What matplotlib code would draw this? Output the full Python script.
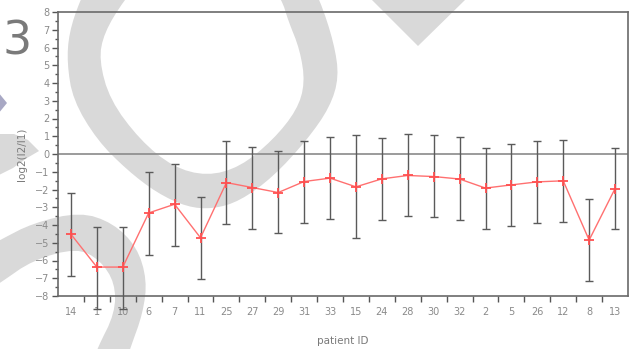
import matplotlib
matplotlib.use("Agg")
import matplotlib.pyplot as plt
import numpy as np
from matplotlib.patches import Polygon, PathPatch
from matplotlib.path import Path
from matplotlib.ticker import MultipleLocator, FixedLocator

# per-patient mean log ratio with +/- spread
patients = ["14", "1", "10", "6", "7", "11", "25", "27", "29", "31", "33",
            "15", "24", "28", "30", "32", "2", "5", "26", "12", "8", "13"]
mean_log2 = [-4.52, -6.37, -6.37, -3.32, -2.83, -4.72, -1.61, -1.89, -2.17, -1.55, -1.36,
             -1.85, -1.40, -1.21, -1.27, -1.41, -1.92, -1.74, -1.57, -1.51, -4.85, -1.95]
upper = [-2.21, -4.09, -4.09, -1.04, -0.57, -2.45, 0.71, 0.40, 0.15, 0.71, 0.94,
         1.07, 0.88, 1.11, 1.07, 0.94, 0.34, 0.57, 0.71, 0.77, -2.55, 0.34]
lower = [-6.87, -8.75, -8.75, -5.71, -5.19, -7.04, -3.93, -4.20, -4.47, -3.89, -3.66,
         -4.73, -3.72, -3.51, -3.56, -3.72, -4.24, -4.04, -3.89, -3.83, -7.15, -4.24]

W, H = 634, 349


def px(points):
    # pixel coords (origin top-left) -> figure fraction
    return [(x / W, 1 - y / H) for x, y in points]


def chaikin(points, n=2):
    pts = np.asarray(points, float)
    for _ in range(n):
        nxt = np.roll(pts, -1, axis=0)
        q = 0.75 * pts + 0.25 * nxt
        r = 0.25 * pts + 0.75 * nxt
        out = np.empty((2 * len(pts), 2))
        out[0::2], out[1::2] = q, r
        pts = out
    return pts


def ring_codes(n):
    return [Path.MOVETO] + [Path.LINETO] * (n - 1) + [Path.CLOSEPOLY]


fig = plt.figure(figsize=(W / 100, H / 100), dpi=100)
ax = fig.add_axes([58 / W, 1 - 296 / H, 570 / W, 284 / H])
ax.set_facecolor("none")

# background decoration
shade = "#d9d9d9"
outer = [(80, 0), (69, 33), (67, 63), (73, 100), (97, 140), (127, 170), (157, 193),
         (187, 207), (213, 209), (240, 201), (273, 177), (307, 140), (330, 107),
         (339, 77), (334, 43), (320, 0), (300, -40), (200, -60), (100, -40)]
inner = [(124, 0), (104, 33), (99, 60), (110, 100), (140, 140), (173, 167), (207, 176),
         (240, 167), (273, 140), (297, 110), (305, 83), (300, 50), (288, 20), (282, 0),
         (262, -30), (200, -45), (150, -30)]
o = chaikin(px(outer))
i = chaikin(px(inner))[::-1]
verts = np.vstack([o, o[:1], i, i[:1]])
codes = ring_codes(len(o)) + ring_codes(len(i))
fig.add_artist(PathPatch(Path(verts, codes), facecolor=shade, edgecolor="none",
                         transform=fig.transFigure, zorder=-2))

arc = [(-10, 246), (0, 240), (33, 223), (80, 212), (113, 223), (137, 247), (147, 280),
       (143, 313), (130, 349), (125, 365), (92, 365), (97, 349), (115, 313), (115, 283),
       (100, 260), (77, 248), (33, 260), (0, 283), (-10, 289)]
fig.add_artist(Polygon(chaikin(px(arc), 2), closed=True, facecolor=shade, edgecolor="none",
                       transform=fig.transFigure, zorder=-2))

wedge = [(-5, 134), (14, 134), (28, 140), (39, 151), (27, 158), (13, 168), (-5, 177)]
fig.add_artist(Polygon(px(wedge), closed=True, facecolor=shade, edgecolor="none",
                       transform=fig.transFigure, zorder=-2))

fig.add_artist(Polygon(px([(372, -5), (465, -5), (465, 0), (418, 46), (372, 0)]),
                       closed=True, facecolor=shade, edgecolor="none",
                       transform=fig.transFigure, zorder=-2))
fig.add_artist(Polygon(px([(-2, 92), (7, 103), (-2, 114)]), closed=True,
                       facecolor="#a8a8c4", edgecolor="none",
                       transform=fig.transFigure, zorder=-2))
fig.text(2 / W, 1 - 42 / H, "3", fontsize=33, color="#7a7a7a", va="center", ha="left")

# data
x = np.arange(len(patients))
mean = np.array(mean_log2)
err = np.vstack([mean - np.array(lower), np.array(upper) - mean])
eb = ax.errorbar(x, mean, yerr=err, fmt="none", ecolor="#5a5a5a", elinewidth=1.0,
                 capsize=3, capthick=1.0, zorder=3)
for art in list(eb.lines[1]) + list(eb.lines[2]):
    art.set_clip_on(False)
ax.plot(x, mean, color="#ff7070", lw=1.0, marker="+", ms=7, mew=1.3,
        mec="#ff5050", zorder=4)
ax.axhline(0, color="#8a8a8a", lw=1.2, zorder=2)

ax.set_xlim(-0.5, len(patients) - 0.5)
ax.set_ylim(-8, 8)

ax.set_xticks(x)
ax.set_xticklabels(patients)
ax.xaxis.set_minor_locator(FixedLocator(np.arange(0.5, len(patients) - 0.5, 1)))
ax.tick_params(axis="x", which="major", length=0, pad=8)
ax.tick_params(axis="x", which="minor", length=4.5, width=1, color="#555555")

ax.yaxis.set_major_locator(MultipleLocator(1))
ax.yaxis.set_minor_locator(MultipleLocator(0.5))
ax.tick_params(axis="y", which="major", length=4, width=1, color="#555555", pad=2)
ax.tick_params(axis="y", which="minor", length=2.5, width=1, color="#555555")
ax.tick_params(labelsize=7, labelcolor="#8a8a8a")

for sp in ax.spines.values():
    sp.set_color("#6a6a6a")
    sp.set_linewidth(1.2)

ax.set_xlabel("patient ID", fontsize=7.5, color="#7a7a7a")
ax.xaxis.set_label_coords(0.5, (296 - 341) / 284)
ax.xaxis.label.set_va("center")
ax.set_ylabel("log2(I2/I1)", fontsize=7.5, color="#7a7a7a")
ax.yaxis.set_label_coords((22 - 58) / 570, 0.5)
ax.yaxis.label.set_va("center")

fig.savefig("out.png", dpi=100)
